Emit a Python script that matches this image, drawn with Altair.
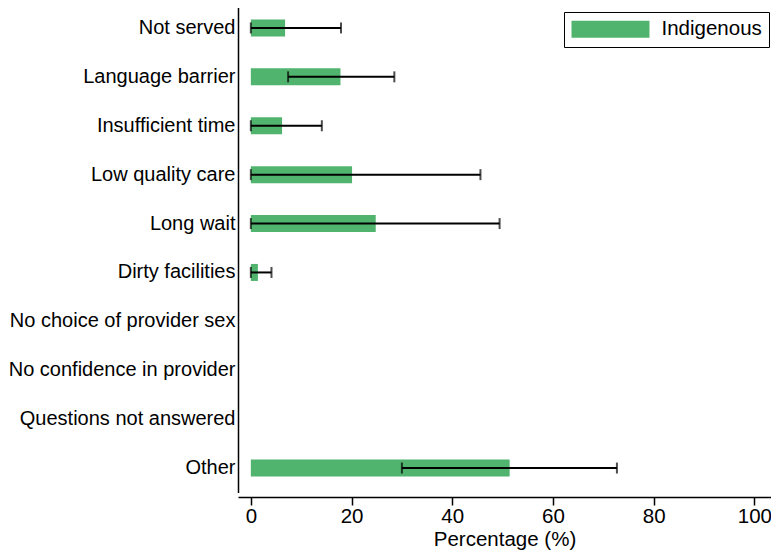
import altair as alt
import pandas as pd

categories = ["Not served", "Language barrier", "Insufficient time", "Low quality care",
              "Long wait", "Dirty facilities", "No choice of provider sex",
              "No confidence in provider", "Questions not answered", "Other"]
values = [6.8, 17.8, 6.2, 20.1, 24.8, 1.4, None, None, None, 51.4]
ci_low = [0.0, 7.4, 0.0, 0.0, 0.0, 0.0, None, None, None, 30.0]
ci_high = [17.9, 28.5, 14.1, 45.6, 49.4, 4.1, None, None, None, 72.7]
group = "Indigenous"
x_ticks = [0, 20, 40, 60, 80, 100]

df = pd.DataFrame({"reason": categories, "pct": values, "lo": ci_low, "hi": ci_high,
                   "group": [group] * len(categories)})

FONT = "Liberation Sans"
GREEN = "#51b46e"
FS = 20

yscale = alt.Scale(domain=categories, paddingOuter=0, paddingInner=0, range=[-4.5, 484.5])
yenc = alt.Y("reason:N", sort=categories, scale=yscale,
             axis=alt.Axis(title=None, ticks=False, labelFontSize=FS, labelFont=FONT,
                           labelColor="black", domainColor="black", domainWidth=1.5,
                           labelPadding=3, labelLimit=300))
xscale = alt.Scale(domain=[-2.55, 103.3], nice=False, zero=False)

bars = alt.Chart(df).mark_bar(size=17).encode(
    x=alt.X("pct:Q", scale=xscale,
            axis=alt.Axis(title="Percentage (%)", values=x_ticks, grid=False,
                          labelFontSize=20.5, labelFont=FONT, labelColor="black",
                          titleFontSize=20.5, titleFont=FONT, titleColor="black",
                          titleFontWeight="normal", titlePadding=3,
                          domainColor="black", domainWidth=1.5, tickColor="black",
                          tickSize=8, tickWidth=1.5, labelPadding=1)),
    x2=alt.X2("zero:Q"),
    y=yenc,
    color=alt.Color("group:N", scale=alt.Scale(domain=[group], range=[GREEN]),
                    legend=alt.Legend(title=None, orient="none", legendX=326, legendY=4,
                                      strokeColor="black", padding=7,
                                      symbolType="M-1,-0.87H7V0.87H-1Z",
                                      symbolSize=380, symbolStrokeWidth=0,
                                      labelFontSize=20.5, labelFont=FONT,
                                      labelColor="black", labelOffset=70,
                                      fillColor="white")),
).transform_calculate(zero="0")

rules = alt.Chart(df).mark_rule(color="black", strokeWidth=2).encode(
    x=alt.X("lo:Q", scale=xscale), x2="hi:Q", y=alt.Y("reason:N", sort=categories))
caps_lo = alt.Chart(df).mark_tick(color="black", thickness=2, size=11).encode(
    x=alt.X("lo:Q", scale=xscale), y=alt.Y("reason:N", sort=categories))
caps_hi = alt.Chart(df).mark_tick(color="black", thickness=2, size=11).encode(
    x=alt.X("hi:Q", scale=xscale), y=alt.Y("reason:N", sort=categories))

chart = alt.layer(bars, rules, caps_lo, caps_hi).properties(
    width=533, height=489,
    autosize=alt.AutoSizeParams(type="none"),
    padding={"left": 230, "top": 0, "right": 0, "bottom": 56},
).configure_view(stroke=None)

chart.save("out.html", embed_options={"renderer": "svg", "actions": False})
